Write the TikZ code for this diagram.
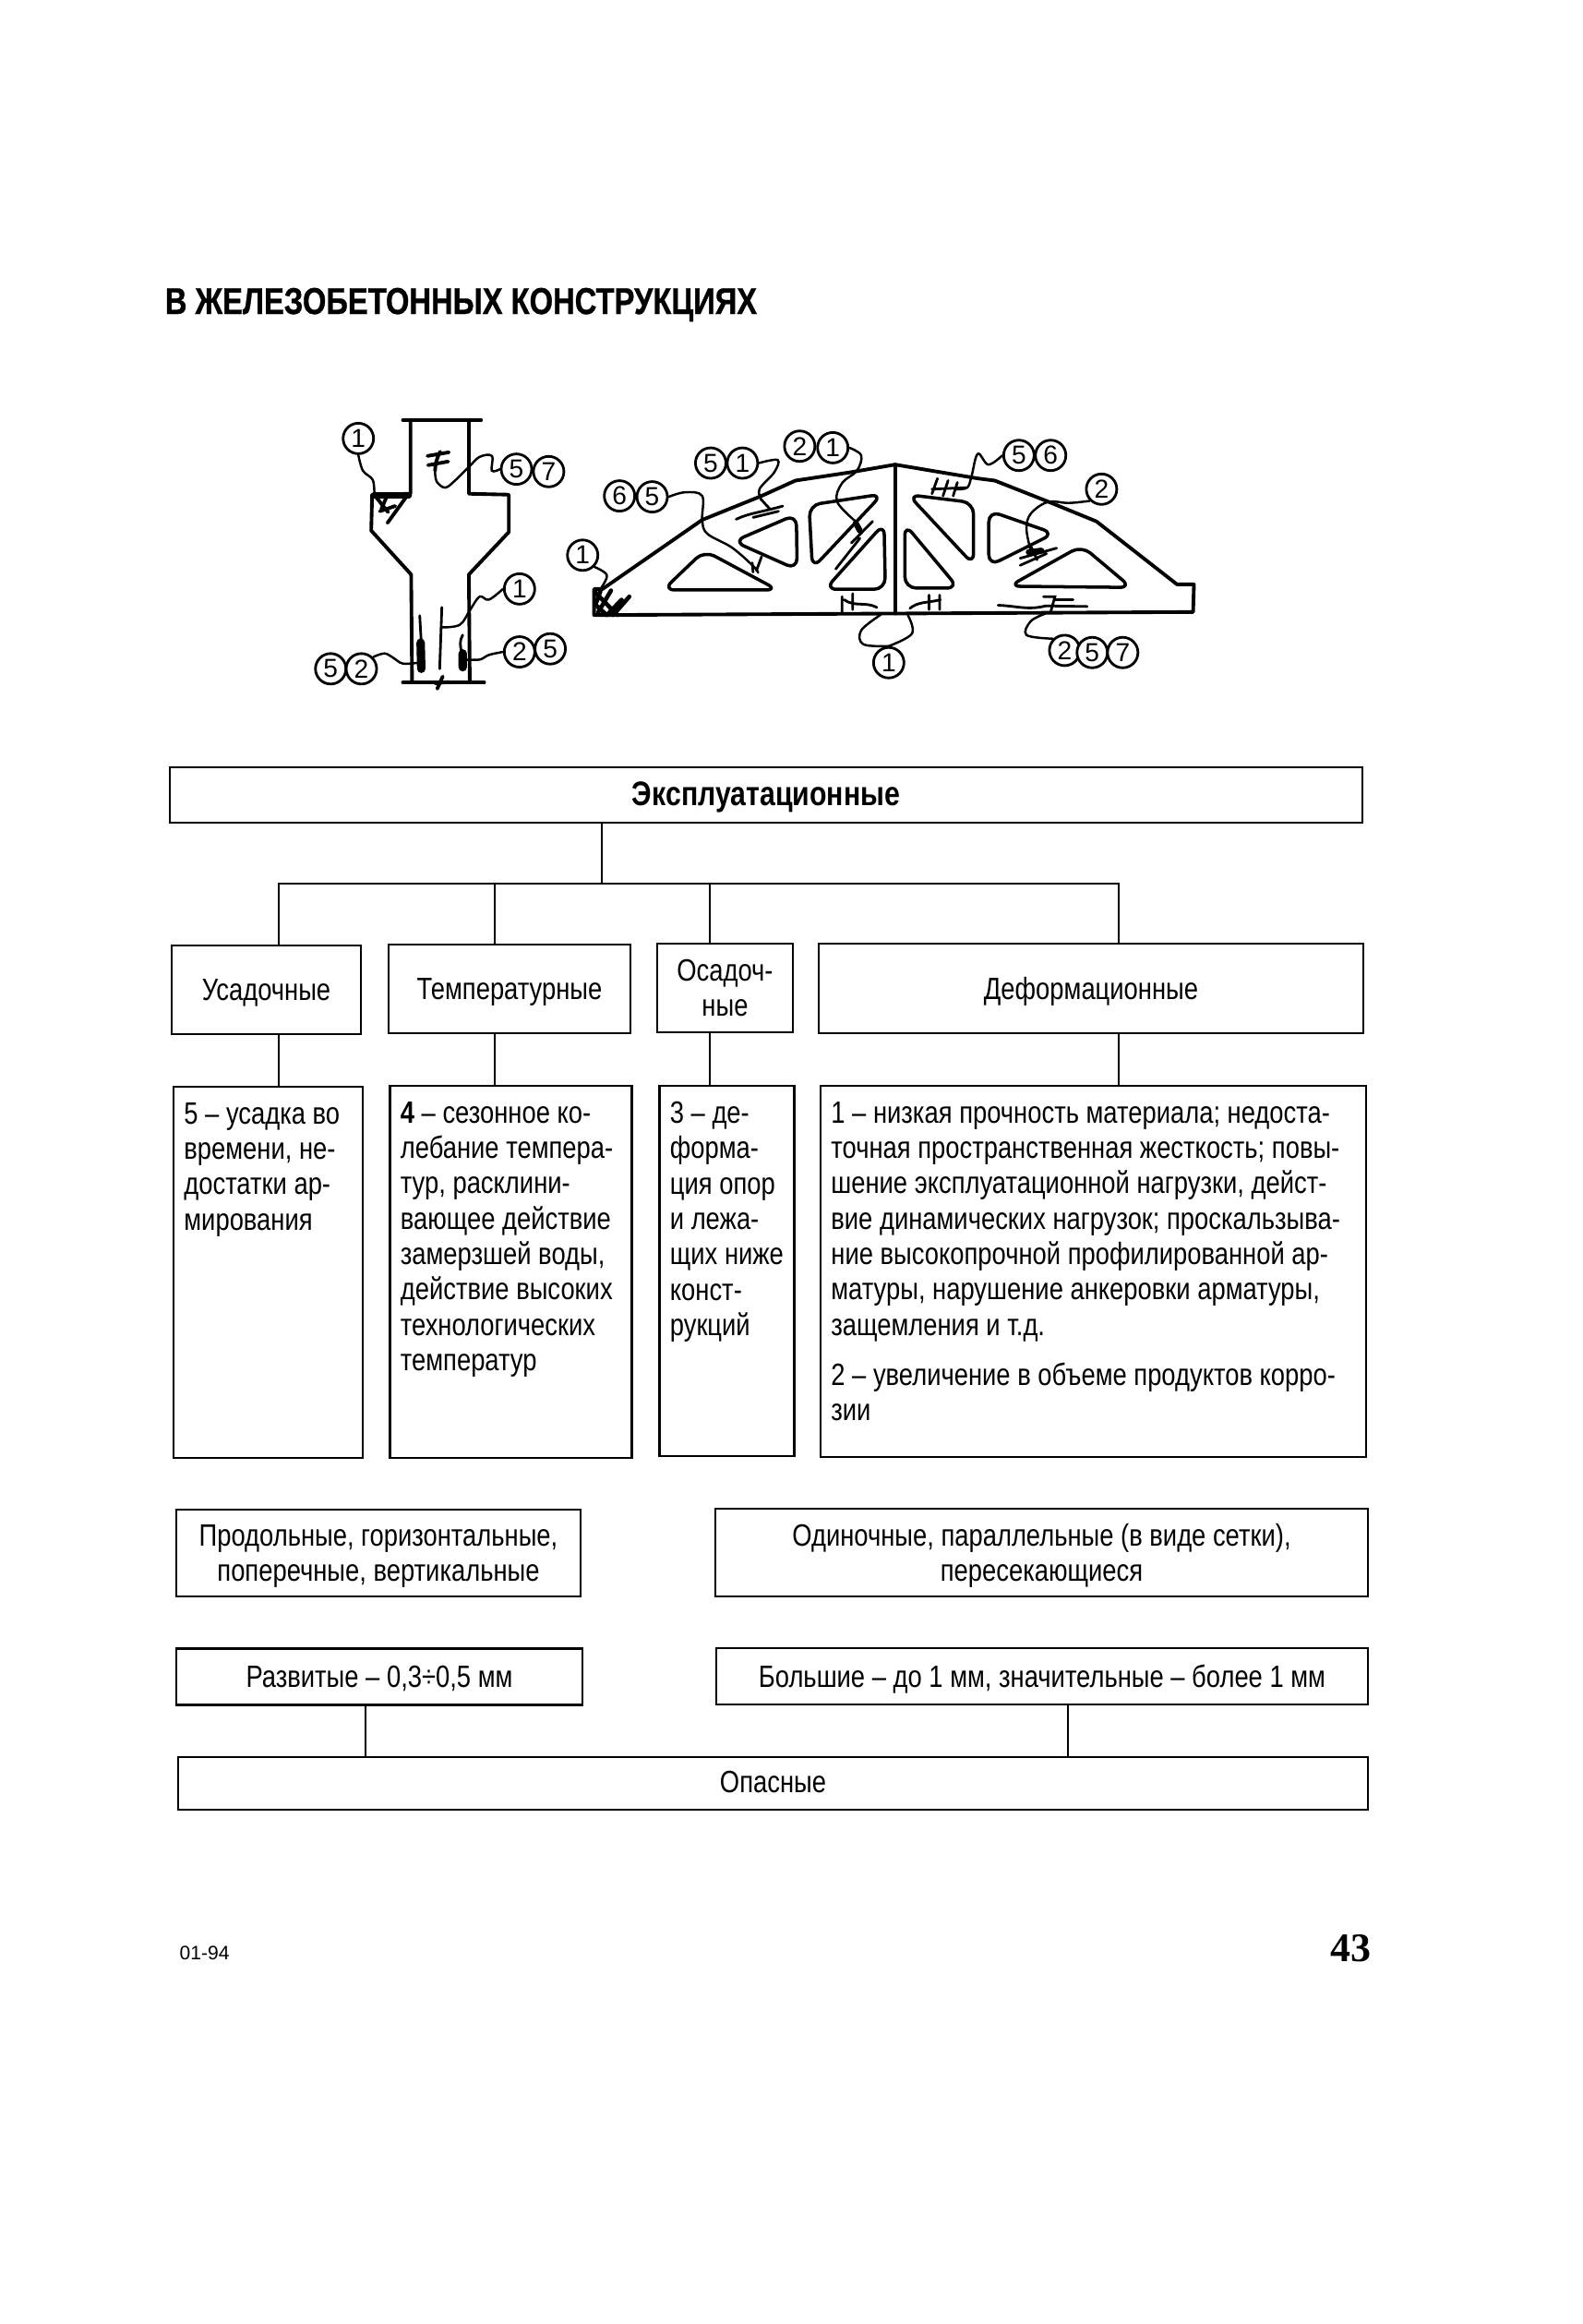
\documentclass[tikz,border=0pt]{standalone}
\usepackage{fontspec}
\setmainfont[FakeStretch=0.82]{Liberation Sans}
\setsansfont{Liberation Sans}
\newfontfamily\headfont[FakeStretch=0.81,BoldFeatures={FakeBold=0.8}]{Liberation Sans}
\newfontfamily\folfont{Liberation Serif}
\usepackage{xcolor}
\begin{document}
\begin{tikzpicture}[line cap=round,
  box/.style={draw,line width=0.75pt,inner sep=0pt,align=center,font=\fontsize{9.5}{10.9}\selectfont},
  oneline/.style={text height=6.7pt,text depth=0pt},
  bodytext/.style={anchor=north west,inner sep=0pt,align=left,font=\fontsize{9.5}{10.9}\selectfont,xshift=0.12cm,yshift=-0.18cm},
  link/.style={line width=0.7pt},
  num/.style={circle,draw,fill=white,line width=0.8pt,inner sep=0pt,minimum size=0.33cm,font=\sffamily\fontsize{8}{8}\selectfont},
  lead/.style={line width=0.7pt},
  wall/.style={line width=1.1pt,line join=round},
  web/.style={line width=1pt,rounded corners=3.5pt,line join=round},
  crack/.style={line width=0.8pt},
  blob/.style={line width=1.8pt}]
\useasboundingbox (0,0) rectangle (17.14,25.17);
\node[font=\headfont\fontsize{11.5}{12}\selectfont\bfseries] (title) at (4.995,21.87) {В ЖЕЛЕЗОБЕТОННЫХ КОНСТРУКЦИЯХ};

\begin{scope}[shift={(3.30,20.87)},x=0.003333cm,y=-0.003333cm]
\draw[wall] (320,75) -- (575,75);
\draw[wall] (345,75) -- (345,315) -- (220,318) -- (217,435) -- (347,578) -- (350,925);
\draw[wall] (535,75) -- (535,315) -- (665,318) -- (665,440) -- (535,578) -- (538,925);
\draw[wall] (320,930) -- (585,930);
\draw[blob] (225,320) -- (340,320);
\draw[crack,line width=1.1pt] (335,320) -- (270,410) (232,325) -- (272,375) (245,372) -- (295,355) (265,330) -- (250,365);
\draw[crack,line width=1.1pt] (400,192) -- (470,180) (402,222) -- (468,210) (442,178) .. controls (430,200) and (425,220) .. (425,240);
\draw[crack] (447,685) -- (440,885) (375,712) -- (380,800);
\draw[blob,line width=2.6pt] (378,800) -- (380,885) (515,835) -- (515,880);
\draw[crack] (515,775) .. controls (505,790) and (505,815) .. (515,840);
\draw[crack,line width=1.1pt] (450,910) -- (432,950) (425,932) -- (470,928);
\node[num] (cola) at (175,135) {1};
\node[num] (colb) at (690,235) {5};
\node[num] (colc) at (795,243) {7};
\node[num] (cold) at (700,625) {1};
\node[num] (cole) at (700,830) {2};
\node[num] (colf) at (800,820) {5};
\node[num] (colg) at (85,885) {5};
\node[num] (colh) at (185,885) {2};
\draw[lead] plot[smooth,tension=0.6] coordinates {(cola.south) (190,240) (222,270) (227,318)};
\draw[lead] plot[smooth,tension=0.6] coordinates {(colb.west) (610,240) (610,192) (570,195) (535,228) (490,272) (458,295) (430,275) (425,240)};
\draw[lead] plot[smooth,tension=0.6] coordinates {(cold.west) (600,660) (570,650) (538,695) (505,742) (445,750)};
\draw[lead] plot[smooth,tension=0.6] coordinates {(cole.west) (600,840) (570,855) (520,855)};
\draw[lead] plot[smooth,tension=0.6] coordinates {(colh.north east) (260,835) (290,850) (320,868) (372,865)};
\end{scope}

\begin{scope}[shift={(6.00,20.67)},x=0.004591cm,y=-0.003333cm]
\draw[wall] (95,650) -- (95,565) -- (115,565) -- (350,340) -- (490,262) -- (570,212) -- (700,185) -- (805,160) -- (1000,205) -- (1040,212) -- (1165,280) -- (1280,345) -- (1470,550) -- (1510,550) -- (1508,640) -- (800,645) -- cycle;
\draw[wall] (805,160) -- (805,645);
\draw[web] (258,568) -- (355,440) -- (528,568) -- cycle;
\draw[web] (424,410) -- (572,322) -- (574,502) -- cycle;
\draw[web] (602,292) -- (775,256) -- (610,498) -- cycle;
\draw[web] (779,352) -- (782,566) -- (640,566) -- cycle;
\draw[web] (828,354) -- (954,562) -- (828,562) -- cycle;
\draw[web] (836,258) -- (990,284) -- (990,486) -- cycle;
\draw[web] (1026,310) -- (1180,384) -- (1026,490) -- cycle;
\draw[web] (1074,556) -- (1245,424) -- (1362,560) -- cycle;
\draw[crack,line width=1.3pt] (110,572) -- (100,610) (135,570) -- (105,640) (160,600) -- (125,650) (178,590) -- (140,650) (97,575) -- (150,650) (97,615) -- (125,650);
\draw[crack] (430,338) .. controls (460,318) and (490,315) .. (540,295) (470,332) -- (530,312) (488,272) -- (510,305);
\draw[crack] (468,480) -- (470,510) (490,460) -- (478,505);
\draw[crack] (752,345) -- (702,415) (722,400) -- (665,500);
\draw[blob] (712,350) -- (722,375);
\draw[crack] (680,590) -- (680,640) (685,600) .. controls (710,625) and (735,605) .. (762,625) (705,580) -- (705,632);
\draw[crack] (840,628) .. controls (860,605) and (885,610) .. (912,600) (885,585) -- (885,632) (910,585) -- (910,632);
\draw[crack] (892,240) -- (972,235) (905,205) -- (892,255) (930,212) -- (918,262) (952,218) -- (942,262);
\draw[crack] (1048,618) .. controls (1090,620) and (1120,635) .. (1160,620) -- (1258,622) (1155,590) -- (1182,590) -- (1172,640) (1182,600) -- (1225,600);
\draw[crack] (1100,465) -- (1186,432) (1100,488) -- (1162,450) (1125,425) -- (1140,470);
\draw[blob] (1120,445) -- (1150,440);
\node[num] (trsa) at (68,455) {1};
\node[num] (trsb) at (155,262) {6};
\node[num] (trsc) at (232,265) {5};
\node[num] (trsd) at (370,155) {5};
\node[num] (trse) at (445,155) {1};
\node[num] (trsf) at (580,100) {2};
\node[num] (trsg) at (658,105) {1};
\node[num] (trsh) at (1097,130) {5};
\node[num] (trsi) at (1172,130) {6};
\node[num] (trsj) at (1292,240) {2};
\node[num] (trsk) at (790,805) {1};
\node[num] (trsl) at (1205,765) {2};
\node[num] (trsm) at (1270,772) {5};
\node[num] (trsn) at (1342,772) {7};
\draw[lead] plot[smooth,tension=0.6] coordinates {(trsa.south east) (125,520) (110,565)};
\draw[lead] plot[smooth,tension=0.6] coordinates {(trsc.east) (310,250) (350,262) (350,340) (362,385) (420,430) (470,490) (482,512)};
\draw[lead] plot[smooth,tension=0.6] coordinates {(trse.east) (528,145) (520,185) (485,240) (490,275)};
\draw[lead] plot[smooth,tension=0.6] coordinates {(trsg.east) (725,130) (715,180) (680,220) (668,280) (712,345)};
\draw[lead] plot[smooth,tension=0.6] coordinates {(trsh.west) (1025,160) (1000,125) (985,200) (975,235) (950,240)};
\draw[lead] plot[smooth,tension=0.6] coordinates {(trsj.south west) (1215,285) (1165,282) (1125,320) (1115,370) (1125,440)};
\draw[lead] plot[smooth,tension=0.6] coordinates {(trsk.north) (730,745) (725,700) (770,650)};
\draw[lead] plot[smooth,tension=0.6] coordinates {(trsk.north) (845,710) (835,650)};
\draw[lead] plot[smooth,tension=0.6] coordinates {(trsl.north west) (1115,715) (1125,670) (1160,645)};
\end{scope}

\node[box,oneline,minimum width=12.92cm,minimum height=0.60cm,font=\fontsize{10.5}{11}\selectfont\bfseries] (main) at (8.30,16.56) {Эксплуатационные};
\node[box,oneline,minimum width=2.05cm,minimum height=0.96cm] (usad) at (2.885,14.45) {Усадочные};
\node[box,oneline,minimum width=2.62cm,minimum height=0.96cm] (temp) at (5.52,14.46) {Температурные};
\node[box,minimum width=1.47cm,minimum height=0.96cm] (osad) at (7.855,14.47) {Осадоч-\\ные};
\node[box,oneline,minimum width=5.90cm,minimum height=0.97cm] (defo) at (11.82,14.465) {Деформационные};

\node[box,minimum width=2.05cm,minimum height=4.02cm] (usadbody) at (2.905,11.39) {};
\node[box,minimum width=2.62cm,minimum height=4.03cm] (tempbody) at (5.535,11.395) {};
\node[box,minimum width=1.46cm,minimum height=4.01cm] (osadbody) at (7.875,11.405) {};
\node[box,minimum width=5.91cm,minimum height=4.02cm] (defobody) at (11.845,11.40) {};
\node[bodytext] (usadtext) at (usadbody.north west) {5 -- усадка во\\времени, не-\\достатки ар-\\мирования};
\node[bodytext] (temptext) at (tempbody.north west) {\textbf{4} -- сезонное ко-\\лебание темпера-\\тур, расклини-\\вающее действие\\замерзшей воды,\\действие высоких\\технологических\\температур};
\node[bodytext] (osadtext) at (osadbody.north west) {3 -- де-\\форма-\\ция опор\\и лежа-\\щих ниже\\конст-\\рукций};
\node[bodytext] (defotext) at (defobody.north west) {1 -- низкая прочность материала; недоста-\\точная пространственная жесткость; повы-\\шение эксплуатационной нагрузки, дейст-\\вие динамических нагрузок; проскальзыва-\\ние высокопрочной профилированной ар-\\матуры, нарушение анкеровки арматуры,\\защемления и т.д.\\[4.5pt]2 -- увеличение в объеме продуктов корро-\\зии};

\node[box,text depth=0pt,minimum width=4.38cm,minimum height=0.94cm] (prod) at (4.10,8.35) {Продольные, горизонтальные,\\поперечные, вертикальные};
\node[box,text depth=0pt,minimum width=7.07cm,minimum height=0.95cm] (odin) at (11.285,8.355) {Одиночные, параллельные (в виде сетки),\\пересекающиеся};
\node[box,oneline,minimum width=4.40cm,minimum height=0.61cm] (razv) at (4.11,7.01) {Развитые -- 0,3÷0,5 мм};
\node[box,text depth=0pt,minimum width=7.06cm,minimum height=0.61cm] (bols) at (11.29,7.015) {Большие -- до 1 мм, значительные -- более 1 мм};
\node[box,text depth=1pt,minimum width=12.89cm,minimum height=0.57cm] (opas) at (8.375,5.855) {Опасные};

\coordinate (trunk) at (6.52,15.60);
\coordinate (busl) at (3.02,15.60);
\coordinate (busa) at (5.36,15.60);
\coordinate (busb) at (7.69,15.60);
\coordinate (busr) at (12.12,15.60);
\draw[link] (trunk |- main.south) -- (trunk);
\draw[link] (busl) -- (busr);
\draw[link] (busl) -- (busl |- usad.north);
\draw[link] (busa) -- (busa |- temp.north);
\draw[link] (busb) -- (busb |- osad.north);
\draw[link] (busr) -- (busr |- defo.north);
\draw[link] (busl |- usad.south) -- (busl |- usadbody.north);
\draw[link] (busa |- temp.south) -- (busa |- tempbody.north);
\draw[link] (busb |- osad.south) -- (busb |- osadbody.north);
\draw[link] (busr |- defo.south) -- (busr |- defobody.north);
\coordinate (dropl) at (3.96,6.40);
\coordinate (dropr) at (11.57,6.40);
\draw[link] (dropl |- razv.south) -- (dropl |- opas.north);
\draw[link] (dropr |- bols.south) -- (dropr |- opas.north);

\node[anchor=west,inner sep=0pt,font=\sffamily\fontsize{6}{7}\selectfont] (code) at (1.94,4.02) {01-94};
\node[anchor=east,inner sep=0pt,font=\folfont\fontsize{12.5}{13}\selectfont\bfseries] (folio) at (14.86,4.07) {43};
\end{tikzpicture}
\end{document}
